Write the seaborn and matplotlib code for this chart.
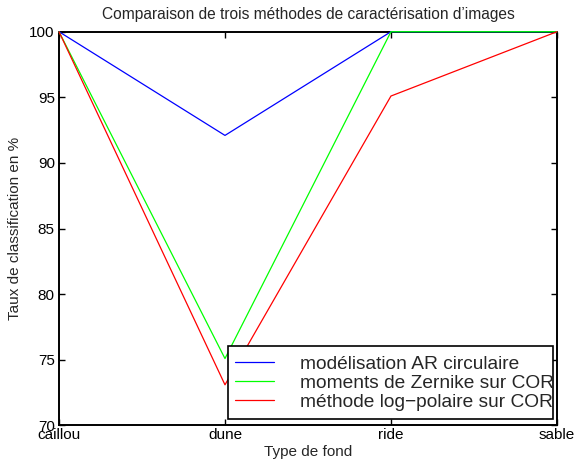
import pandas as pd
import matplotlib
matplotlib.use("Agg")
import matplotlib.pyplot as plt
import seaborn as sns
from matplotlib.lines import Line2D
from matplotlib.patches import Rectangle

# data
fonds = ["caillou", "dune", "ride", "sable"]
ar_circ = [100, 92.1, 100, 100]
zernike = [100, 75.1, 100, 100]
log_pol = [100, 73.1, 95.1, 100]
methodes = ["modélisation AR circulaire",
            "moments de Zernike sur COR",
            "méthode log\u2212polaire sur COR"]
couleurs = ["#0000ff", "#00ff00", "#ff0000"]

rows = []
for m, vals in zip(methodes, [ar_circ, zernike, log_pol]):
    for i, v in enumerate(vals):
        rows.append({"pos": i, "taux": v, "methode": m})
df = pd.DataFrame(rows)

sns.set_style("ticks")
plt.rcParams["font.family"] = ["Liberation Sans", "DejaVu Sans"]

fig = plt.figure(figsize=(5.75, 4.63), dpi=100)
ax = fig.add_axes([0.1026, 0.081, 0.866, 0.8505])

sns.lineplot(data=df, x="pos", y="taux", hue="methode", hue_order=methodes,
             palette=couleurs, linewidth=0.9, ax=ax, legend=False)
for ln in ax.lines:
    ln.set_clip_on(False)
    ln.set_zorder(3)

ax.set_xlim(0, 3)
ax.set_ylim(70, 100)
ax.set_xticks(range(4))
ax.set_xticklabels(fonds, fontsize=11)
ax.set_yticks(range(70, 101, 5))
ax.tick_params(axis="y", labelsize=11)
ax.tick_params(direction="in", length=4, width=1, top=True, right=True,
               colors="black", pad=3)
ax.tick_params(axis="x", pad=2)
for s in ax.spines.values():
    s.set_linewidth(1.4)
    s.set_color("black")

ax.set_title("Comparaison de trois méthodes de caractérisation d\u2019images",
             fontsize=11.2, pad=9)
ax.set_xlabel("Type de fond", fontsize=11, labelpad=2)
ax.set_ylabel("Taux de classification en %", fontsize=11, labelpad=5)

# legend box drawn by hand (text spills over its right edge, like the original)
ax.add_patch(Rectangle((0.339, 0.0165), 0.653, 0.1855, transform=ax.transAxes,
                       facecolor="white", edgecolor="black", linewidth=1.2,
                       zorder=4, clip_on=False))
handles = [Line2D([], [], color=c, lw=0.9) for c in couleurs]
leg = ax.legend(handles, methodes, loc="lower left",
                bbox_to_anchor=(0.339, 0.02), fontsize=13.8,
                frameon=False, handlelength=2.05, handletextpad=1.35,
                labelspacing=0.08, borderpad=0.35, borderaxespad=0)
leg.set_zorder(5)

fig.savefig("out.png", dpi=100)
